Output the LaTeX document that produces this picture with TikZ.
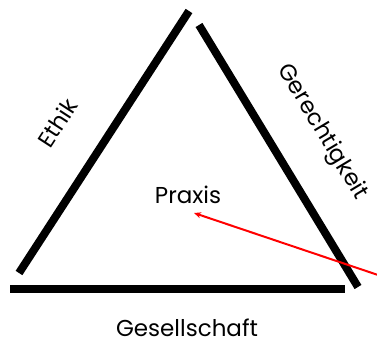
\documentclass[tikz,border=0pt]{standalone}
\usepackage{fontspec}
\setmainfont{Poppins}
\usetikzlibrary{arrows.meta}
\tikzset{
  side/.style={line width=8pt},
  sidelabel/.style={font=\fontsize{23}{26}\selectfont, inner sep=0pt},
  hinweis/.style={red, line width=2pt, -{Stealth[length=7pt,width=6pt]}},
}
\begin{document}
\begin{tikzpicture}[x=1pt,y=-1pt]
  \useasboundingbox (0,0) rectangle (377,347);
  \coordinate (L1) at (19,273);
  \coordinate (L2) at (189,11);
  \coordinate (R1) at (199,25);
  \coordinate (R2) at (358,287);
  \coordinate (B1) at (10,289);
  \coordinate (B2) at (345,289);
  \draw[side] (L1)--(L2);
  \draw[side] (R1)--(R2);
  \draw[side] (B1)--(B2);
  \node[sidelabel,rotate=57] (ethik) at (57,123) {Ethik};
  \node[sidelabel,rotate=-59] (gerecht) at (322,132) {Gerechtigkeit};
  \node[sidelabel] (gesell) at (187,328) {Gesellschaft};
  \node[sidelabel] (praxis) at (188,195) {Praxis};
  \coordinate (pfeil) at (381,276);
  \coordinate (ziel) at (194,213);
  \draw[hinweis] (pfeil)--(ziel);
\end{tikzpicture}
\end{document}
